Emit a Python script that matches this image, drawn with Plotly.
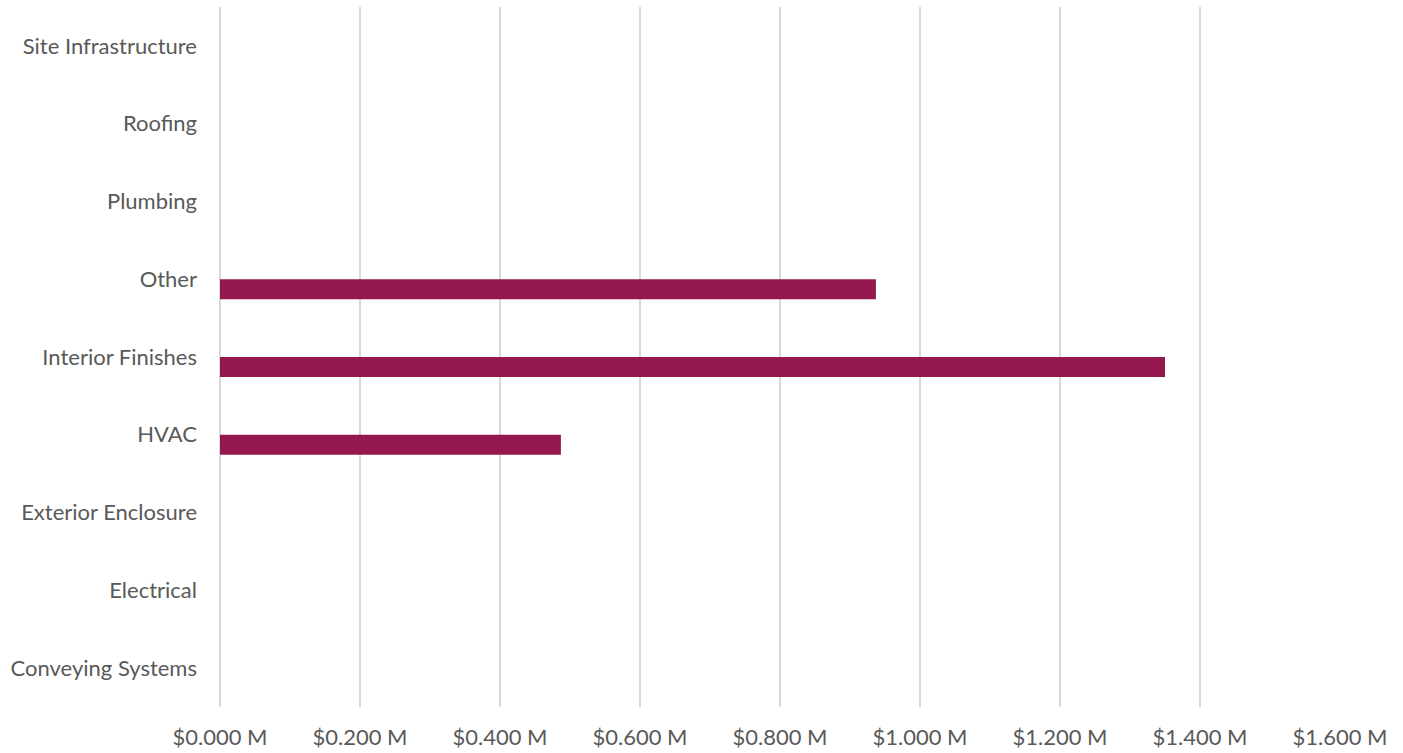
import plotly.graph_objects as go

# Cost by trade category, in millions of dollars (listed bottom to top)
categories = [
    "Conveying Systems",
    "Electrical",
    "Exterior Enclosure",
    "HVAC",
    "Interior Finishes",
    "Other",
    "Plumbing",
    "Roofing",
    "Site Infrastructure",
]
cost_millions = [0, 0, 0, 0.487, 1.35, 0.937, 0, 0, 0]

x_ticks = [0, 0.2, 0.4, 0.6, 0.8, 1.0, 1.2, 1.4, 1.6]
x_tick_labels = [f"${v:.3f} M" for v in x_ticks]

BAR_COLOR = "#95174F"
GRID_COLOR = "#D9D9D9"
TEXT_COLOR = "#595959"
FONT = "Lato, 'Open Sans', sans-serif"

fig = go.Figure()
fig.add_trace(
    go.Bar(
        y=categories,
        x=cost_millions,
        orientation="h",
        marker=dict(color=BAR_COLOR, line=dict(width=0)),
        width=0.257,
        offset=-0.258,
        hoverinfo="x+y",
    )
)

fig.update_layout(
    width=1403,
    height=753,
    margin=dict(l=220, r=63, t=7, b=46),
    paper_bgcolor="white",
    plot_bgcolor="white",
    showlegend=False,
    font=dict(family=FONT, size=22, color=TEXT_COLOR),
    xaxis=dict(
        range=[0, 1.6],
        tickvals=x_ticks,
        ticktext=x_tick_labels,
        showgrid=True,
        gridcolor=GRID_COLOR,
        gridwidth=1.5,
        zeroline=True,
        zerolinecolor=GRID_COLOR,
        zerolinewidth=1.5,
        showline=False,
        ticks="",
        ticklabelstandoff=15,
        automargin=False,
        tickfont=dict(size=22, color=TEXT_COLOR),
        fixedrange=True,
    ),
    yaxis=dict(
        type="category",
        categoryorder="array",
        categoryarray=categories,
        range=[-0.5, len(categories) - 0.5],
        showgrid=False,
        zeroline=False,
        showline=False,
        ticks="",
        ticklabelstandoff=22,
        automargin=False,
        tickfont=dict(size=22, color=TEXT_COLOR),
        fixedrange=True,
    ),
)

fig.write_html("out.html")
